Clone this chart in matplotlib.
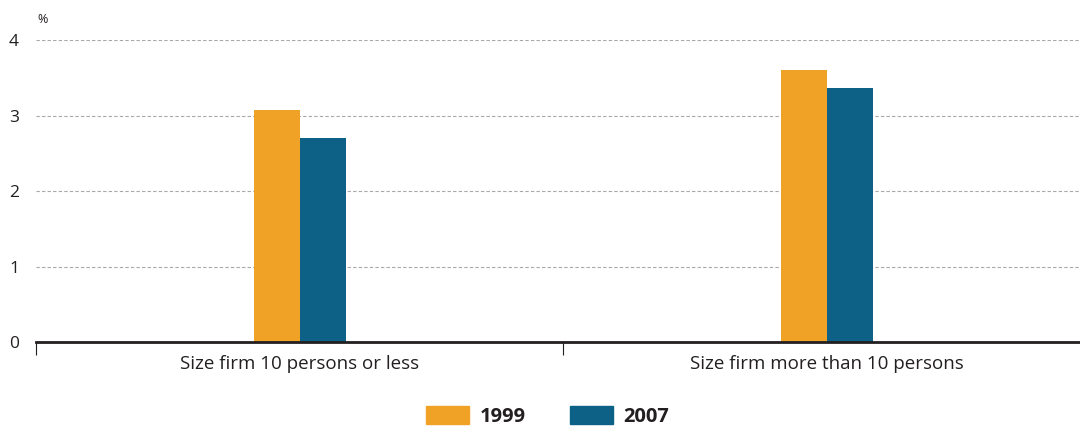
import numpy as np
import matplotlib.pyplot as plt
from matplotlib.patches import Patch

plt.rcParams['font.family'] = ['Open Sans', 'DejaVu Sans']

# Data
categories = ["Size firm 10 persons or less", "Size firm more than 10 persons"]
years = ["1999", "2007"]
values_1999 = [3.07, 3.60]
values_2007 = [2.70, 3.36]
colors = ["#F0A226", "#0E6186"]

fig = plt.figure(figsize=(10.8, 4.26), dpi=100)
# axis runs a little past the right edge of the picture
ax = fig.add_axes([0.0335, 0.197, 0.976, 0.709])

x = np.arange(len(categories))
w = 0.0873
ax.bar(x - w / 2, values_1999, w, color=colors[0], zorder=3)
ax.bar(x + w / 2, values_2007, w, color=colors[1], zorder=3)

ax.set_xlim(-0.5, 1.5)
ax.set_ylim(0, 4)
ax.set_yticks([0, 1, 2, 3, 4])
ax.yaxis.grid(True, linestyle=(0, (3, 2)), color="#A8A8A8", linewidth=0.8, zorder=0)
ax.tick_params(axis="y", length=0, pad=14, labelsize=12.5, labelcolor="#231F20")
for lbl in ax.get_yticklabels():
    lbl.set_horizontalalignment("center")
ax.tick_params(axis="y", pad=16)

# category boundaries as ticks, labels centred between them
ax.set_xticks([-0.5, 0.5])
ax.set_xticklabels([])
ax.set_xticks(x, minor=True)
ax.set_xticklabels(categories, minor=True)
ax.tick_params(axis="x", which="major", direction="out", length=9, width=0.8, color="#231F20")
ax.tick_params(axis="x", which="minor", length=0, pad=9, labelsize=13.5, labelcolor="#231F20")

for s in ["top", "right", "left"]:
    ax.spines[s].set_visible(False)
ax.spines["bottom"].set_color("#231F20")
ax.spines["bottom"].set_linewidth(2)
ax.spines["bottom"].set_zorder(4)

fig.text(0.035, 0.955, "%", fontsize=9, color="#231F20", ha="left", va="center")

handles = [Patch(color=c) for c in colors]
leg = fig.legend(handles, years, loc="center", bbox_to_anchor=(0.507, 0.022), ncol=2,
                 frameon=False, handlelength=2.15, handleheight=0.95, columnspacing=2.2,
                 handletextpad=0.5, borderpad=0, prop={"weight": "bold", "size": 14.5})
for t in leg.get_texts():
    t.set_color("#231F20")

fig.savefig("out.png", dpi=100)
